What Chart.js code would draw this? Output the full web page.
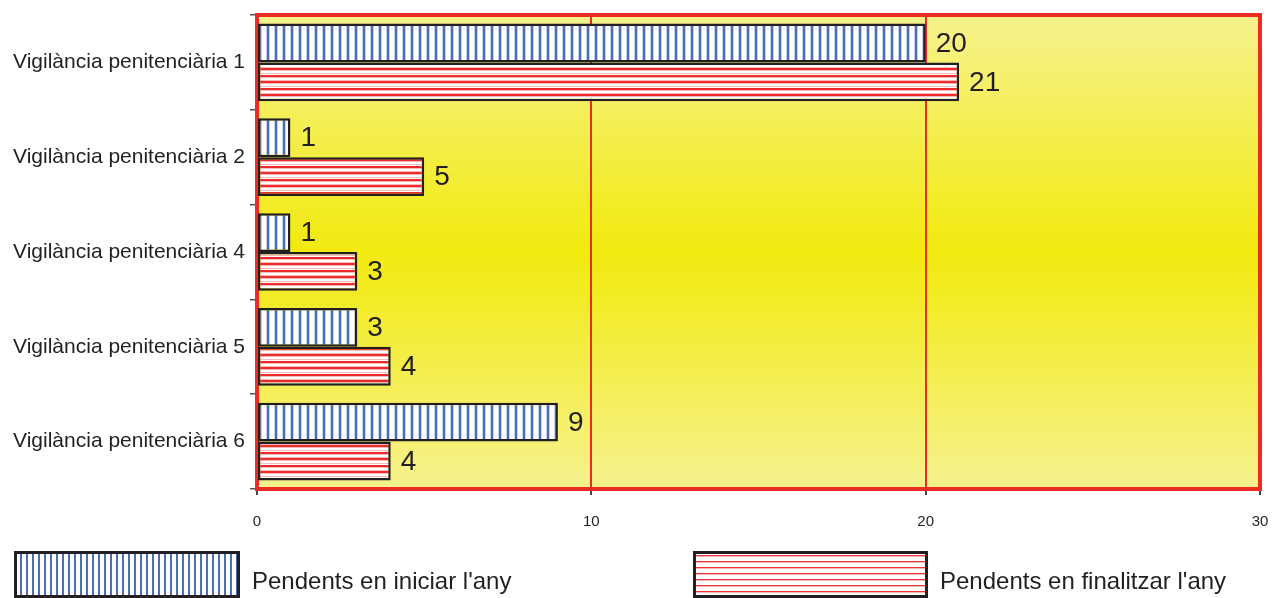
<!DOCTYPE html>
<html lang="ca">
<head>
    <meta charset="UTF-8">
    <title>Vigilància penitenciària</title>
    <style>
        html, body {
            margin: 0;
            padding: 0;
            background: #ffffff;
        }
        .chart-container {
            position: relative;
            width: 1272px;
            height: 598px;
        }
    </style>
</head>
<body>
    <div class="chart-container">
        <canvas id="vigChart"></canvas>
    </div>
    <script src="https://cdn.jsdelivr.net/npm/chart.js"></script>
    <script>
        // data
        const categories = [
            'Vigilància penitenciària 1',
            'Vigilància penitenciària 2',
            'Vigilància penitenciària 4',
            'Vigilància penitenciària 5',
            'Vigilància penitenciària 6'
        ];
        const pendentsIniciar = [20, 1, 1, 3, 9];
        const pendentsFinalitzar = [21, 5, 3, 4, 4];
        const seriesLabels = ["Pendents en iniciar l'any", "Pendents en finalitzar l'any"];
        const xTicks = [0, 10, 20, 30];

        const FONT = 'Arial, "Liberation Sans", sans-serif';
        const TEXT = '#231f20';

        // striped fills
        function makePattern(w, h, draw) {
            const c = document.createElement('canvas');
            c.width = w;
            c.height = h;
            const g = c.getContext('2d');
            g.fillStyle = '#ffffff';
            g.fillRect(0, 0, w, h);
            draw(g);
            return g.createPattern(c, 'repeat');
        }
        const blueBar = makePattern(8, 4, g => {
            g.fillStyle = '#c3cfea';
            g.fillRect(2, 0, 1, 4);
            g.fillRect(5, 0, 1, 4);
            g.fillStyle = '#4d6db6';
            g.fillRect(3, 0, 2, 4);
        });
        const redBar = makePattern(4, 13, g => {
            g.fillStyle = '#f8b9b9';
            g.fillRect(0, 2, 4, 1);
            g.fillRect(0, 5, 4, 1);
            g.fillRect(0, 8, 4, 1);
            g.fillRect(0, 12, 4, 1);
            g.fillStyle = '#ee2a2a';
            g.fillRect(0, 3, 4, 2);
            g.fillRect(0, 10, 4, 2);
        });
        const blueLegend = makePattern(6, 4, g => {
            g.fillStyle = '#4d6db6';
            g.fillRect(2, 0, 2, 4);
        });
        const redLegend = makePattern(4, 6, g => {
            g.fillStyle = '#ee3434';
            g.fillRect(0, 3, 4, 1);
            g.fillStyle = '#f8b4b4';
            g.fillRect(0, 4, 4, 1);
        });

        const plotDecor = {
            id: 'plotDecor',
            beforeDraw(chart) {
                const { ctx, chartArea: a } = chart;
                const grad = ctx.createLinearGradient(0, a.top, 0, a.bottom);
                grad.addColorStop(0, '#f6f28e');
                grad.addColorStop(0.5, '#f2ea0e');
                grad.addColorStop(1, '#f6f28e');
                ctx.save();
                ctx.fillStyle = grad;
                ctx.fillRect(a.left, a.top, a.right - a.left, a.bottom - a.top);
                ctx.restore();
            },
            beforeDatasetsDraw(chart) {
                const { ctx, chartArea: a } = chart;
                ctx.save();
                ctx.strokeStyle = '#ee2a24';
                ctx.lineWidth = 4;
                ctx.strokeRect(a.left, a.top, a.right - a.left, a.bottom - a.top);
                ctx.restore();
            },
            afterDatasetsDraw(chart) {
                const { ctx } = chart;
                ctx.save();
                ctx.font = '28px ' + FONT;
                ctx.fillStyle = TEXT;
                ctx.textAlign = 'left';
                ctx.textBaseline = 'middle';
                chart.data.datasets.forEach((ds, i) => {
                    chart.getDatasetMeta(i).data.forEach((bar, j) => {
                        ctx.fillText(String(ds.data[j]), bar.x + 10, bar.y + 1);
                    });
                });
                ctx.restore();
            },
            afterDraw(chart) {
                // legend along the bottom
                const { ctx } = chart;
                const boxes = [
                    { x: 14, w: 226, fill: blueLegend },
                    { x: 693, w: 235, fill: redLegend }
                ];
                ctx.save();
                chart.data.datasets.forEach((ds, i) => {
                    const b = boxes[i];
                    ctx.fillStyle = b.fill;
                    ctx.fillRect(b.x, 551, b.w, 46);
                    ctx.strokeStyle = TEXT;
                    ctx.lineWidth = 3;
                    ctx.strokeRect(b.x + 1.5, 552.5, b.w - 3, 44);
                    ctx.fillStyle = TEXT;
                    ctx.font = '24px ' + FONT;
                    ctx.textAlign = 'left';
                    ctx.textBaseline = 'middle';
                    ctx.fillText(ds.label, b.x + b.w + 12, 582);
                });
                ctx.restore();
            }
        };

        new Chart(document.getElementById('vigChart'), {
            type: 'bar',
            data: {
                labels: categories,
                datasets: [
                    {
                        label: seriesLabels[0],
                        data: pendentsIniciar,
                        backgroundColor: blueBar,
                        borderColor: TEXT,
                        borderWidth: 2.5,
                        borderSkipped: false
                    },
                    {
                        label: seriesLabels[1],
                        data: pendentsFinalitzar,
                        backgroundColor: redBar,
                        borderColor: TEXT,
                        borderWidth: 2.5,
                        borderSkipped: false
                    }
                ]
            },
            options: {
                indexAxis: 'y',
                responsive: true,
                maintainAspectRatio: false,
                animation: false,
                layout: {
                    padding: { top: 15, right: 12, left: 0, bottom: 0 }
                },
                datasets: {
                    bar: {
                        categoryPercentage: 0.82,
                        barPercentage: 1.0
                    }
                },
                plugins: {
                    legend: { display: false },
                    tooltip: { enabled: false }
                },
                scales: {
                    x: {
                        min: 0,
                        max: 30,
                        afterBuildTicks: s => { s.ticks = xTicks.map(v => ({ value: v })); },
                        afterFit: s => {
                            s.height = 109;
                            s.paddingLeft = 0;
                            s.paddingRight = 0;
                        },
                        border: { display: false },
                        grid: {
                            color: '#ee2a24',
                            lineWidth: 2,
                            tickColor: '#444444',
                            tickLength: 6
                        },
                        ticks: {
                            padding: 18,
                            color: TEXT,
                            font: { family: FONT, size: 15 }
                        }
                    },
                    y: {
                        afterFit: s => {
                            s.width = 257;
                            s.paddingTop = 0;
                            s.paddingBottom = 0;
                        },
                        border: { display: false },
                        grid: {
                            offset: true,
                            drawOnChartArea: false,
                            tickColor: '#555555',
                            tickLength: 7,
                            lineWidth: 1.5
                        },
                        ticks: {
                            padding: 5,
                            color: TEXT,
                            font: { family: FONT, size: 21 }
                        }
                    }
                }
            },
            plugins: [plotDecor]
        });
    </script>
</body>
</html>
